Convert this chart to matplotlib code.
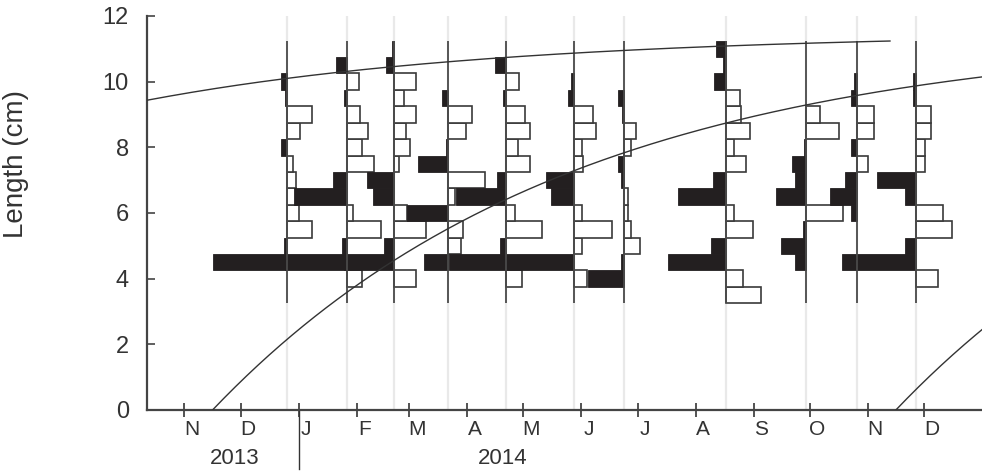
import numpy as np
import matplotlib.pyplot as plt
import matplotlib.dates as mdates
import matplotlib.transforms as mtransforms
from datetime import datetime, timedelta

plt.rcParams['font.family'] = ['Liberation Sans', 'DejaVu Sans']

# sampling dates
sample_dates = ['2013-12-26', '2014-01-27', '2014-02-21', '2014-03-22', '2014-04-22',
                '2014-05-28', '2014-06-24', '2014-08-17', '2014-09-29', '2014-10-26',
                '2014-11-27']

# length class mid points (cm), 0.5 cm classes
length_mids = [3.5, 4.0, 4.5, 5.0, 5.5, 6.0, 6.5, 7.0, 7.5, 8.0, 8.5, 9.0, 9.5, 10.0, 10.5, 11.0]

# restructured frequencies, one list per sample (peaks > 0 black, troughs < 0 white)
rf_dec = [0, 0, 1.0, 0.04, -0.33, -0.15, -0.11, -0.11, -0.08, 0.08, -0.17, -0.33, 0.03, 0.08, 0, 0]
rf_jan = [0, -0.19, 0.83, 0.07, -0.45, -0.07, 0.71, 0.19, -0.36, -0.20, -0.28, -0.17, 0.04, -0.16, 0.15, 0]
rf_feb = [0, -0.29, 0.67, 0.13, -0.43, -0.17, 0.28, 0.36, -0.07, -0.21, -0.16, -0.29, -0.13, -0.29, 0.11, 0.03]
rf_mar = [0, 0, 0.33, -0.17, -0.19, 0.55, -0.09, -0.49, 0.40, 0.03, -0.24, -0.31, 0.08, 0, 0, 0]
rf_apr = [0, -0.21, 0.77, 0.08, -0.47, -0.11, 0.68, 0.13, -0.32, -0.15, -0.32, -0.25, 0.04, -0.17, 0.15, 0]
rf_may = [0, -0.17, 0.91, -0.11, -0.51, -0.11, 0.31, 0.37, -0.12, -0.11, -0.29, -0.25, 0.08, 0.04, 0, 0]
rf_jun = [0, 0.49, 0.05, -0.21, -0.09, -0.05, -0.05, 0.04, 0.08, -0.09, -0.16, 0.03, 0.08, 0, 0, 0]
rf_aug = [-0.48, -0.23, 0.77, 0.19, -0.37, -0.12, 0.64, 0.17, -0.27, -0.12, -0.33, -0.21, -0.19, 0.15, 0.04, 0.13]
rf_sep = [0, 0, 0.15, 0.33, 0.04, -0.49, 0.40, 0.15, 0.19, 0.03, -0.44, -0.19, 0, 0, 0, 0]
rf_oct = [0, 0, 0, 0, 0, 0.08, 0.36, 0.15, -0.15, 0.07, -0.23, -0.23, 0.07, 0.04, 0, 0]
rf_nov = [0, -0.29, 1.0, 0.15, -0.48, -0.36, 0.15, 0.53, -0.12, -0.12, -0.19, -0.19, 0.04, 0.04, 0, 0]

samples = [rf_dec, rf_jan, rf_feb, rf_mar, rf_apr, rf_may, rf_jun, rf_aug, rf_sep, rf_oct, rf_nov]

# VBGF parameters and cohort birth dates
Linf = 11.5
K = 1.9
cohort_births = ['2012-11-16', '2013-11-16', '2014-11-16']
curve_years = 1.99

month_labels = ['N', 'D', 'J', 'F', 'M', 'A', 'M', 'J', 'J', 'A', 'S', 'O', 'N', 'D']
years = ['2013', '2014']
year_label_dates = ['2013-11-28', '2014-04-20']

bar_days = 40.0   # horizontal size (days) of a score of 1
bin_w = 0.5
txt = '#333333'
dark = '#444444'

def dnum(s):
    return mdates.date2num(datetime.strptime(s, '%Y-%m-%d'))

fig = plt.figure(figsize=(9.82, 4.73), dpi=100)
ax = fig.add_axes([0.1497, 0.1332, 0.8503, 0.8330])

xmin = dnum('2013-10-12')
xmax = dnum('2015-01-01')
ax.set_xlim(xmin, xmax)
ax.set_ylim(0, 12)

mids = np.array(length_mids)
for d, rf in zip(sample_dates, samples):
    x = dnum(d)
    rf = np.array(rf)
    ax.axvline(x, color='#e9e9e9', lw=1.6, zorder=0)
    neg = rf < 0
    pos = rf > 0
    ax.barh(mids[neg], -rf[neg] * bar_days, left=x, height=bin_w, color='white',
            edgecolor='#3a3a3a', lw=1.2, zorder=2)
    ax.barh(mids[pos], -rf[pos] * bar_days, left=x, height=bin_w, color='#231f20',
            edgecolor='#231f20', lw=0.6, zorder=2.5)
    ax.vlines(x, mids[0] - bin_w / 2, mids[-1] + bin_w / 2, color='#4a4a4a', lw=1.3, zorder=3)

# growth curves, one per cohort
for b in cohort_births:
    t0 = dnum(b)
    t = np.linspace(t0, t0 + curve_years * 365.25, 600)
    age = (t - t0) / 365.25
    L = Linf * (1 - np.exp(-K * age))
    ax.plot(t, L, color='#333333', lw=1.0, zorder=4)

# axes styling
for s in ['top', 'right']:
    ax.spines[s].set_visible(False)
for s in ['left', 'bottom']:
    ax.spines[s].set_color(dark)
    ax.spines[s].set_linewidth(1.6)

ax.set_yticks(np.arange(0, 13, 2))
ax.tick_params(axis='y', direction='in', length=6, width=1.2, color=dark,
               labelsize=17, labelcolor=txt, pad=13)

month_starts = [datetime(2013, 11, 1)]
for i in range(13):
    m = month_starts[-1]
    month_starts.append(datetime(m.year + (m.month == 12), m.month % 12 + 1, 1))
ax.set_xticks(mdates.date2num(month_starts))
ax.set_xticklabels([])
ax.set_xticks(mdates.date2num([m + timedelta(days=4) for m in month_starts]), minor=True)
ax.set_xticklabels(month_labels, minor=True)
ax.tick_params(axis='x', which='major', direction='inout', length=10, width=1.3, color=dark)
ax.tick_params(axis='x', which='minor', length=0, labelsize=15, labelcolor=txt, pad=7)

ax.set_ylabel('Length (cm)', fontsize=20, color=txt)
ax.yaxis.set_label_coords(-0.141, 0.625)

# year labels and separator
trans = mtransforms.blended_transform_factory(ax.transData, ax.transAxes)
jan1 = dnum('2014-01-01')
ax.plot([jan1, jan1], [0, -0.15], color='#333333', lw=1.0, transform=trans, clip_on=False)
for y, d in zip(years, year_label_dates):
    ax.text(dnum(d), -0.123, y, transform=trans, ha='center', va='center',
            fontsize=16, color=txt)

fig.savefig('out.png', dpi=100)
